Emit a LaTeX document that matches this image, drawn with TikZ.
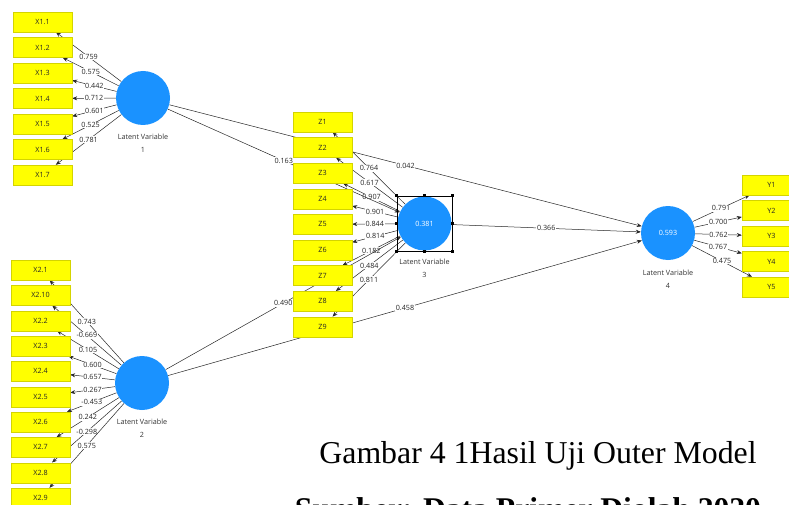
\documentclass[tikz,border=0pt]{standalone}
\usepackage{fontspec}
\setmainfont{Liberation Serif}
\setsansfont{Open Sans}
\usepackage{xcolor}
\usetikzlibrary{positioning,arrows.meta,backgrounds}
\definecolor{lvblue}{RGB}{26,146,255}
\definecolor{mvyellow}{RGB}{255,255,0}
\definecolor{mvedge}{RGB}{212,212,0}

\begin{document}
\begin{tikzpicture}[x=1pt,y=1pt]
\tikzstyle{every node}+=[inner sep=0pt, font=\sffamily\fontsize{7.2}{13}\selectfont]
\tikzstyle{ind}=[draw=mvedge, fill=mvyellow, minimum width=59pt, minimum height=20pt, text=black!85]
\tikzstyle{lv}=[circle, fill=lvblue, minimum size=54pt, text=white]
\tikzstyle{lvname}=[align=center, text=black!80]
\tikzstyle{wt}=[fill=white, inner sep=0.6pt, text=black!85]
\tikzstyle{ld}=[black!85, line width=0.5pt, -{Stealth[length=5pt,width=4pt]}]
\tikzstyle{handle}=[fill=black, minimum size=3.2pt]
\useasboundingbox (0,0) rectangle (789,-505);
% latent variables
\node [lv] (lv1) at (143,-98) {};
\node [lv] (lv2) at (142,-383) {};
\node [lv] (lv3) at (424.5,-223.5) {0.381};
\node [lv] (lv4) at (668,-233) {0.593};
\node [lvname, below=9pt of lv1] (lvn1) {Latent Variable\\1};
\node [lvname, below=9pt of lv2] (lvn2) {Latent Variable\\2};
\node [lvname, below=8pt of lv3] (lvn3) {Latent Variable\\3};
\node [lvname, below=10pt of lv4] (lvn4) {Latent Variable\\4};
\node [draw, minimum size=55pt] (sel3) at (lv3.center) {};
\node [handle] (h1) at (sel3.north west) {};
\node [handle] (h2) at (sel3.north) {};
\node [handle] (h3) at (sel3.north east) {};
\node [handle] (h4) at (sel3.east) {};
\node [handle] (h5) at (sel3.south east) {};
\node [handle] (h6) at (sel3.south) {};
\node [handle] (h7) at (sel3.south west) {};
\node [handle] (h8) at (sel3.west) {};
% indicators of LV 1
\node [ind] (x11) at (42.5,-22) {X1.1};
\node [ind] (x12) at (42.5,-47.5) {X1.2};
\node [ind] (x13) at (42.5,-73) {X1.3};
\node [ind] (x14) at (42.5,-98.5) {X1.4};
\node [ind] (x15) at (42.5,-124) {X1.5};
\node [ind] (x16) at (42.5,-149.5) {X1.6};
\node [ind] (x17) at (42.5,-175) {X1.7};
% indicators of LV 2
\node [ind] (x21) at (40.5,-270) {X2.1};
\node [ind] (x210) at (40.5,-295.3) {X2.10};
\node [ind] (x22) at (40.5,-320.7) {X2.2};
\node [ind] (x23) at (40.5,-346) {X2.3};
\node [ind] (x24) at (40.5,-371.3) {X2.4};
\node [ind] (x25) at (40.5,-396.7) {X2.5};
\node [ind] (x26) at (40.5,-422) {X2.6};
\node [ind] (x27) at (40.5,-447.3) {X2.7};
\node [ind] (x28) at (40.5,-472.7) {X2.8};
\node [ind] (x29) at (40.5,-498) {X2.9};
% indicators of LV 3
\node [ind] (z1) at (322.5,-122) {Z1};
\node [ind] (z2) at (322.5,-147.6) {Z2};
\node [ind] (z3) at (322.5,-173.2) {Z3};
\node [ind] (z4) at (322.5,-198.8) {Z4};
\node [ind] (z5) at (322.5,-224.4) {Z5};
\node [ind] (z6) at (322.5,-250) {Z6};
\node [ind] (z7) at (322.5,-275.6) {Z7};
\node [ind] (z8) at (322.5,-301.2) {Z8};
\node [ind] (z9) at (322.5,-326.8) {Z9};
% indicators of LV 4
\node [ind] (y1) at (771.5,-185) {Y1};
\node [ind] (y2) at (771.5,-210.5) {Y2};
\node [ind] (y3) at (771.5,-236) {Y3};
\node [ind] (y4) at (771.5,-261.5) {Y4};
\node [ind] (y5) at (771.5,-287) {Y5};
% caption
\node [anchor=base, font=\rmfamily\fontsize{31.8}{36}\selectfont] (cap1) at (538,-463) {Gambar 4 1Hasil Uji Outer Model};
\node [anchor=base, font=\rmfamily\bfseries\fontsize{31.6}{36}\selectfont] (cap2) at (528,-519) {Sumber: Data Primer Diolah 2020};
\begin{scope}[on background layer]
\draw [ld] (lv1) -- node [wt] {0.759} (x11);
\draw [ld] (lv1) -- node [wt] {0.575} (x12);
\draw [ld] (lv1) -- node [wt] {0.442} (x13);
\draw [ld] (lv1) -- node [wt] {0.712} (x14);
\draw [ld] (lv1) -- node [wt] {0.601} (x15);
\draw [ld] (lv1) -- node [wt] {0.525} (x16);
\draw [ld] (lv1) -- node [wt] {0.781} (x17);
\draw [ld] (lv2) -- node [wt] {0.743} (x21);
\draw [ld] (lv2) -- node [wt] {-0.669} (x210);
\draw [ld] (lv2) -- node [wt] {0.105} (x22);
\draw [ld] (lv2) -- node [wt] {0.600} (x23);
\draw [ld] (lv2) -- node [wt] {0.657} (x24);
\draw [ld] (lv2) -- node [wt] {0.267} (x25);
\draw [ld] (lv2) -- node [wt] {-0.453} (x26);
\draw [ld] (lv2) -- node [wt] {0.242} (x27);
\draw [ld] (lv2) -- node [wt] {-0.298} (x28);
\draw [ld] (lv2) -- node [wt] {0.575} (x29);
\draw [ld] (lv3) -- node [wt] {0.764} (z1);
\draw [ld] (lv3) -- node [wt] {0.617} (z2);
\draw [ld] (lv3) -- node [wt] {0.907} (z3);
\draw [ld] (lv3) -- node [wt] {0.901} (z4);
\draw [ld] (lv3) -- node [wt] {0.844} (z5);
\draw [ld] (lv3) -- node [wt] {0.814} (z6);
\draw [ld] (lv3) -- node [wt] {0.182} (z7);
\draw [ld] (lv3) -- node [wt] {0.484} (z8);
\draw [ld] (lv3) -- node [wt] {0.811} (z9);
\draw [ld] (lv4) -- node [wt] {0.791} (y1);
\draw [ld] (lv4) -- node [wt] {0.700} (y2);
\draw [ld] (lv4) -- node [wt] {0.762} (y3);
\draw [ld] (lv4) -- node [wt] {0.767} (y4);
\draw [ld] (lv4) -- node [wt] {0.475} (y5);
% inner model
\draw [ld] (lv1) -- node [wt] {0.163} (lv3);
\draw [ld] (lv1) -- node [wt] {0.042} (lv4);
\draw [ld] (lv2) -- node [wt] {0.490} (lv3);
\draw [ld] (lv2) -- node [wt] {0.458} (lv4);
\draw [ld] (lv3) -- node [wt] {0.366} (lv4);
\end{scope}
\end{tikzpicture}
\end{document}
